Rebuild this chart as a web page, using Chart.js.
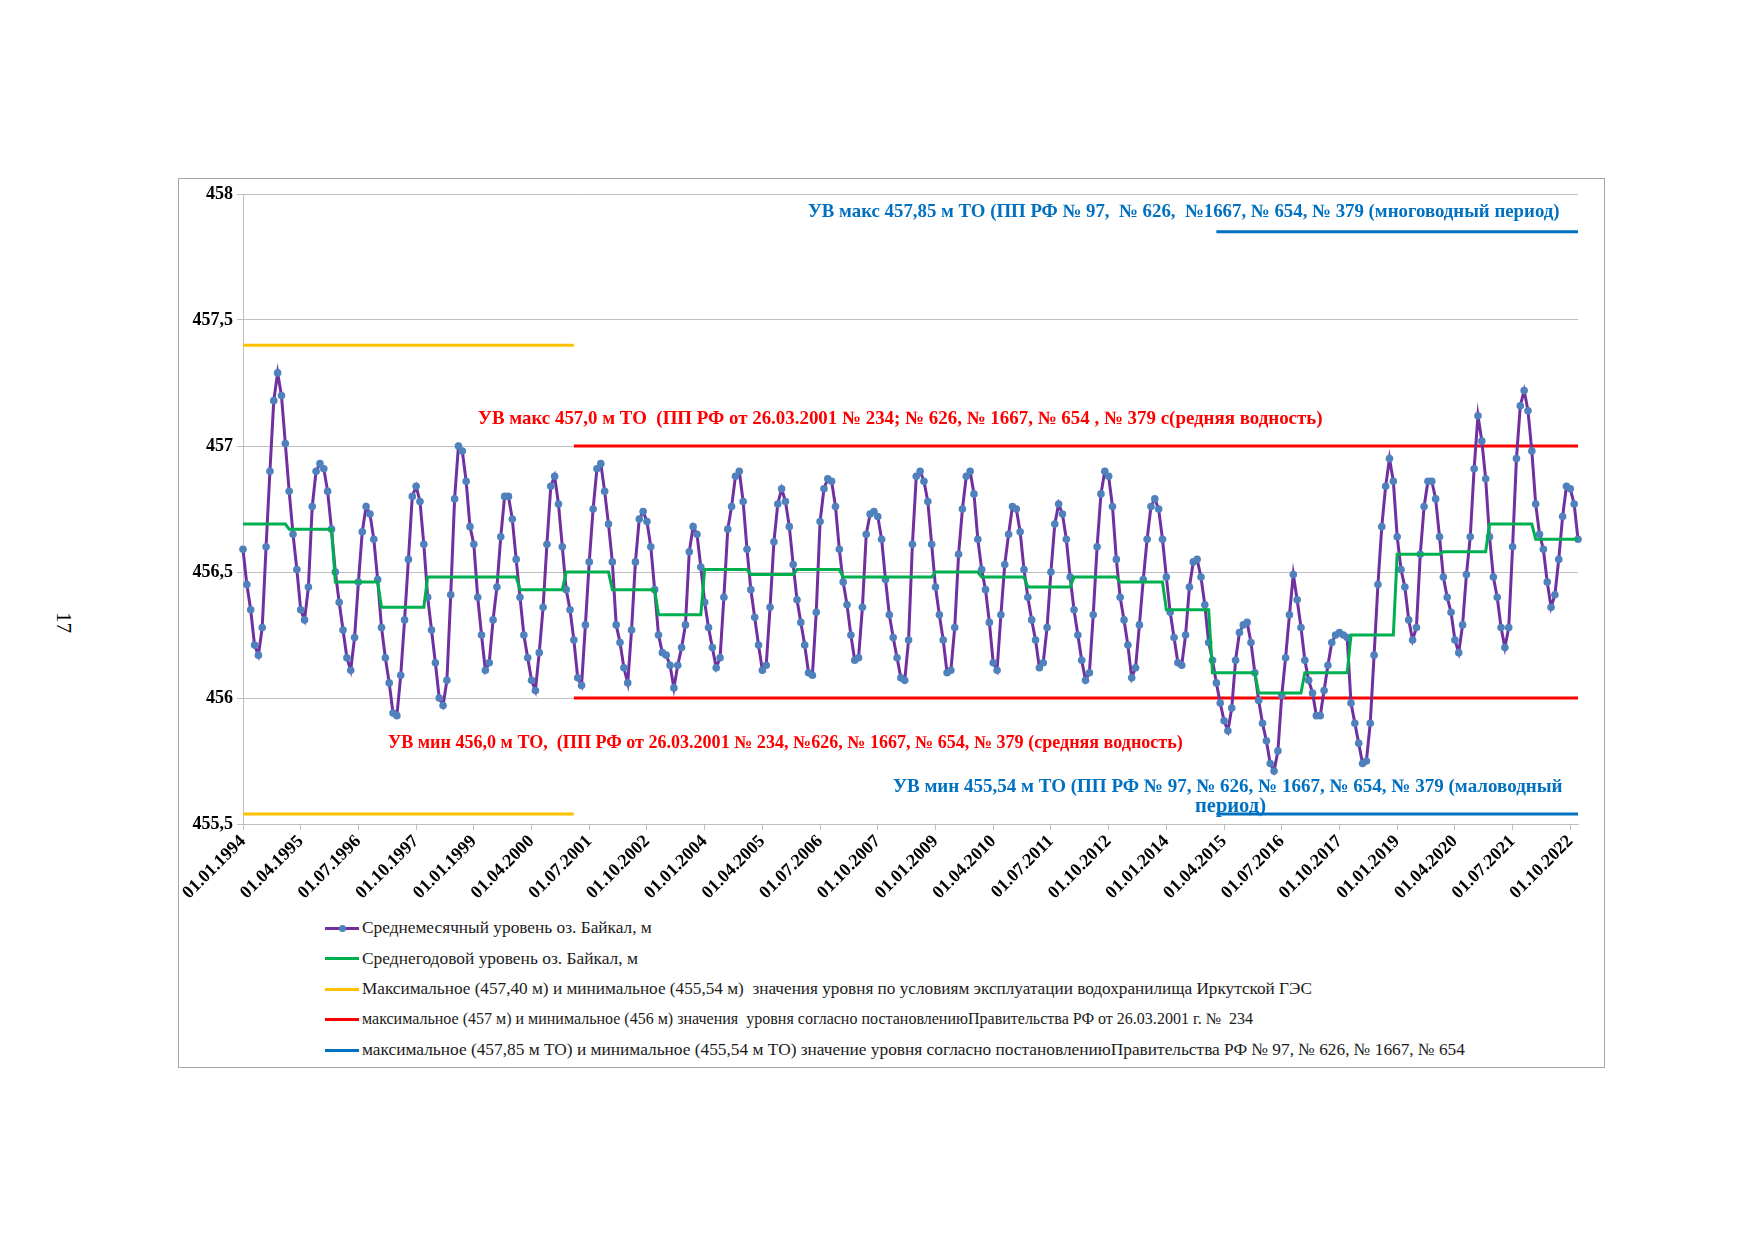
<!DOCTYPE html>
<html lang="ru">
<head>
<meta charset="utf-8">
<title>Уровень оз. Байкал</title>
<script src="https://cdn.jsdelivr.net/npm/chart.js@4.4.1/dist/chart.umd.min.js"></script>
<style>
  body { margin: 0; width: 1754px; height: 1240px; background: #fff; position: relative; overflow: hidden;
         font-family: "Liberation Serif", "DejaVu Serif", serif; }
  #frame { position: absolute; left: 178px; top: 178px; width: 1425px; height: 888px; border: 1px solid #a6a6a6; }
  #chart { position: absolute; left: 178px; top: 178px; }
  .note { position: absolute; font-weight: bold; font-size: 16px; line-height: 18px; white-space: pre; }
  .blue { color: #0070c0; }
  .red { color: #ff0000; }
  .leg { position: absolute; left: 325px; height: 18px; line-height: 18px; font-size: 15.5px; white-space: pre; color: #1a1a1a; }
  .sw { position: absolute; left: 0; top: 8px; width: 34px; height: 3px; }
  .dot { position: absolute; left: 14px; top: -2px; width: 7px; height: 7px; border-radius: 50%; background: #4f81bd; }
  .lt { position: absolute; left: 37px; top: 0; }
  #page { position: absolute; left: 76px; top: 612px; font-size: 21px; transform: rotate(90deg); transform-origin: left top; }
</style>
</head>
<body>
<div id="frame"></div>
<canvas id="chart" width="1427" height="740"></canvas>

<div class="note blue" style="left:808px; top:202px" data-w="752">УВ макс 457,85 м ТО (ПП РФ № 97,  № 626,  №1667, № 654, № 379 (многоводный период)</div>
<div class="note red" style="left:478px; top:409px" data-w="845">УВ макс 457,0 м ТО  (ПП РФ от 26.03.2001 № 234; № 626, № 1667, № 654 , № 379 с(редняя водность)</div>
<div class="note red" style="left:388px; top:733px" data-w="795">УВ мин 456,0 м ТО,  (ПП РФ от 26.03.2001 № 234, №626, № 1667, № 654, № 379 (средняя водность)</div>
<div class="note blue" style="left:893px; top:777px" data-w="670">УВ мин 455,54 м ТО (ПП РФ № 97, № 626, № 1667, № 654, № 379 (маловодный</div>
<div class="note blue" style="left:1195px; top:796px" data-w="71">период)</div>

<div class="leg" style="top:919px"><span class="sw" style="background:#7030a0"><span class="dot"></span></span><span class="lt" data-w="290">Среднемесячный уровень оз. Байкал, м</span></div>
<div class="leg" style="top:949px"><span class="sw" style="background:#00b050"></span><span class="lt" data-w="276">Среднегодовой уровень оз. Байкал, м</span></div>
<div class="leg" style="top:980px"><span class="sw" style="background:#ffc000"></span><span class="lt" data-w="951">Максимальное (457,40 м) и минимальное (455,54 м)  значения уровня по условиям эксплуатации водохранилища Иркутской ГЭС</span></div>
<div class="leg" style="top:1010px"><span class="sw" style="background:#ff0000"></span><span class="lt" data-w="892">максимальное (457 м) и минимальное (456 м) значения  уровня согласно постановлениюПравительства РФ от 26.03.2001 г. №  234</span></div>
<div class="leg" style="top:1041px"><span class="sw" style="background:#0070c0"></span><span class="lt" data-w="1103">максимальное (457,85 м ТО) и минимальное (455,54 м ТО) значение уровня согласно постановлениюПравительства РФ № 97, № 626, № 1667, № 654</span></div>

<div id="page">17</div>

<script>
// Monthly mean level of Lake Baikal, m (Jan..Dec), 1994-2022
const startYear = 1994;
const monthlyLevel = [
  456.59, 456.45, 456.35, 456.21, 456.17, 456.28, 456.60, 456.90, 457.18, 457.29, 457.20, 457.01, // 1994
  456.82, 456.65, 456.51, 456.35, 456.31, 456.44, 456.76, 456.90, 456.93, 456.91, 456.82, 456.67, // 1995
  456.50, 456.38, 456.27, 456.16, 456.11, 456.24, 456.46, 456.66, 456.76, 456.73, 456.63, 456.47, // 1996
  456.28, 456.16, 456.06, 455.94, 455.93, 456.09, 456.31, 456.55, 456.80, 456.84, 456.78, 456.61, // 1997
  456.40, 456.27, 456.14, 456.00, 455.97, 456.07, 456.41, 456.79, 457.00, 456.98, 456.86, 456.68, // 1998
  456.61, 456.40, 456.25, 456.11, 456.14, 456.31, 456.44, 456.64, 456.80, 456.80, 456.71, 456.55, // 1999
  456.40, 456.25, 456.16, 456.07, 456.03, 456.18, 456.36, 456.61, 456.84, 456.88, 456.77, 456.60, // 2000
  456.43, 456.35, 456.23, 456.08, 456.05, 456.29, 456.54, 456.75, 456.91, 456.93, 456.82, 456.69, // 2001
  456.54, 456.29, 456.22, 456.12, 456.06, 456.27, 456.54, 456.71, 456.74, 456.70, 456.60, 456.43, // 2002
  456.25, 456.18, 456.17, 456.13, 456.04, 456.13, 456.20, 456.29, 456.58, 456.68, 456.65, 456.52, // 2003
  456.38, 456.28, 456.20, 456.12, 456.16, 456.40, 456.67, 456.76, 456.88, 456.90, 456.78, 456.59, // 2004
  456.43, 456.32, 456.21, 456.11, 456.13, 456.36, 456.62, 456.77, 456.83, 456.78, 456.68, 456.53, // 2005
  456.39, 456.30, 456.21, 456.10, 456.09, 456.34, 456.70, 456.83, 456.87, 456.86, 456.76, 456.59, // 2006
  456.46, 456.37, 456.25, 456.15, 456.16, 456.36, 456.65, 456.73, 456.74, 456.72, 456.63, 456.47, // 2007
  456.33, 456.24, 456.16, 456.08, 456.07, 456.23, 456.61, 456.88, 456.90, 456.86, 456.78, 456.61, // 2008
  456.44, 456.33, 456.23, 456.10, 456.11, 456.28, 456.57, 456.75, 456.88, 456.90, 456.81, 456.63, // 2009
  456.51, 456.43, 456.30, 456.14, 456.11, 456.33, 456.53, 456.65, 456.76, 456.75, 456.66, 456.51, // 2010
  456.40, 456.31, 456.23, 456.12, 456.14, 456.28, 456.50, 456.69, 456.77, 456.73, 456.63, 456.48, // 2011
  456.35, 456.25, 456.15, 456.07, 456.10, 456.33, 456.60, 456.81, 456.90, 456.88, 456.76, 456.55, // 2012
  456.40, 456.31, 456.21, 456.08, 456.12, 456.29, 456.47, 456.63, 456.76, 456.79, 456.75, 456.63, // 2013
  456.48, 456.34, 456.24, 456.14, 456.13, 456.25, 456.44, 456.54, 456.55, 456.48, 456.37, 456.22, // 2014
  456.15, 456.06, 455.98, 455.91, 455.87, 455.96, 456.15, 456.26, 456.29, 456.30, 456.22, 456.10, // 2015
  455.99, 455.90, 455.83, 455.74, 455.71, 455.79, 456.01, 456.16, 456.33, 456.49, 456.39, 456.28, // 2016
  456.15, 456.07, 456.02, 455.93, 455.93, 456.03, 456.13, 456.22, 456.25, 456.26, 456.25, 456.24, // 2017
  455.98, 455.90, 455.82, 455.74, 455.75, 455.90, 456.17, 456.45, 456.68, 456.84, 456.95, 456.86, // 2018
  456.64, 456.51, 456.44, 456.31, 456.23, 456.28, 456.57, 456.76, 456.86, 456.86, 456.79, 456.64, // 2019
  456.48, 456.40, 456.34, 456.23, 456.18, 456.29, 456.49, 456.64, 456.91, 457.12, 457.02, 456.87, // 2020
  456.64, 456.48, 456.40, 456.28, 456.20, 456.28, 456.60, 456.95, 457.16, 457.22, 457.14, 456.98, // 2021
  456.77, 456.65, 456.59, 456.46, 456.36, 456.41, 456.55, 456.72, 456.84, 456.83, 456.77, 456.63  // 2022
];

// Annual mean level, m (one per year, 1994-2022)
const annualMean = [
  456.69, 456.67, 456.46, 456.36, 456.48, 456.48, 456.43, 456.50, 456.43, 456.33,
  456.51, 456.49, 456.51, 456.48, 456.48, 456.50, 456.48, 456.44, 456.48, 456.46,
  456.35, 456.10, 456.02, 456.10, 456.25, 456.57, 456.58, 456.69, 456.63
];

// Reference levels: [max, min] and month index range [from, to]
const hpsLevels = [457.40, 455.54];   const hpsRange = [0, 86];
const decree234Levels = [457.0, 456.0]; const decree234Range = [86, 347];
const decree97Levels = [457.85, 455.54]; const decree97Range = [253, 347];

const tickLabels = [
  "01.01.1994", "01.04.1995", "01.07.1996", "01.10.1997", "01.01.1999", "01.04.2000",
  "01.07.2001", "01.10.2002", "01.01.2004", "01.04.2005", "01.07.2006", "01.10.2007",
  "01.01.2009", "01.04.2010", "01.07.2011", "01.10.2012", "01.01.2014", "01.04.2015",
  "01.07.2016", "01.10.2017", "01.01.2019", "01.04.2020", "01.07.2021", "01.10.2022"
];
const tickStep = 15;

// categories: first day of every month
const months = monthlyLevel.map((v, i) => {
  const m = (i % 12) + 1;
  return "01." + (m < 10 ? "0" + m : m) + "." + (startYear + Math.floor(i / 12));
});
const annualSeries = months.map((d, i) => annualMean[Math.floor(i / 12)]);

function levelLine(value, range) {
  return months.map((d, i) => (i >= range[0] && i <= range[1] ? value : null));
}

function refDataset(value, range, color) {
  return {
    data: levelLine(value, range),
    borderColor: color,
    borderWidth: 3,
    pointRadius: 0,
    spanGaps: false,
    order: 3,
  };
}

const serif = "'Liberation Serif', 'DejaVu Serif', serif";

new Chart(document.getElementById("chart"), {
  type: "line",
  data: {
    labels: months,
    datasets: [
      {
        label: "Среднемесячный уровень оз. Байкал, м",
        data: monthlyLevel,
        borderColor: "#7030a0",
        borderWidth: 3,
        pointRadius: 3.8,
        pointBackgroundColor: "#4f81bd",
        pointBorderColor: "#4f81bd",
        pointBorderWidth: 0,
        tension: 0,
        order: 2,
      },
      {
        label: "Среднегодовой уровень оз. Байкал, м",
        data: annualSeries,
        borderColor: "#00b050",
        borderWidth: 3,
        pointRadius: 0,
        order: 1,
      },
      refDataset(hpsLevels[0], hpsRange, "#ffc000"),
      refDataset(hpsLevels[1], hpsRange, "#ffc000"),
      refDataset(decree234Levels[0], decree234Range, "#ff0000"),
      refDataset(decree234Levels[1], decree234Range, "#ff0000"),
      refDataset(decree97Levels[0], decree97Range, "#0070c0"),
      refDataset(decree97Levels[1], decree97Range, "#0070c0"),
    ],
  },
  options: {
    responsive: false,
    animation: false,
    devicePixelRatio: 1,
    layout: { padding: { top: 16, right: 27, bottom: 0, left: 0 } },
    plugins: { legend: { display: false }, tooltip: { enabled: false } },
    scales: {
      x: {
        offset: false,
        grid: { drawOnChartArea: false, color: "#bfbfbf", tickLength: 6 },
        border: { color: "#bfbfbf" },
        ticks: {
          autoSkip: false,
          maxRotation: 45,
          minRotation: 45,
          padding: 1,
          color: "#000",
          font: { family: serif, size: 18, weight: "bold" },
          callback: (val, i) => (i % tickStep === 0 ? tickLabels[i / tickStep] : null),
        },
        afterFit: (s) => { s.height = 94; },
      },
      y: {
        min: 455.5,
        max: 458,
        grid: { color: "#bfbfbf", tickLength: 6 },
        border: { color: "#bfbfbf" },
        ticks: {
          stepSize: 0.5,
          padding: 4,
          color: "#000",
          font: { family: serif, size: 18, weight: "bold" },
          callback: (v) => String(v).replace(".", ","),
        },
        afterFit: (s) => { s.width = 65; },
      },
    },
  },
});

// stretch annotation and legend texts to the widths they have in the original
document.querySelectorAll("[data-w]").forEach((el) => {
  const fs = parseFloat(getComputedStyle(el).fontSize);
  const w = el.getBoundingClientRect().width;
  el.style.fontSize = ((fs * el.dataset.w) / w).toFixed(2) + "px";
});
</script>
</body>
</html>
